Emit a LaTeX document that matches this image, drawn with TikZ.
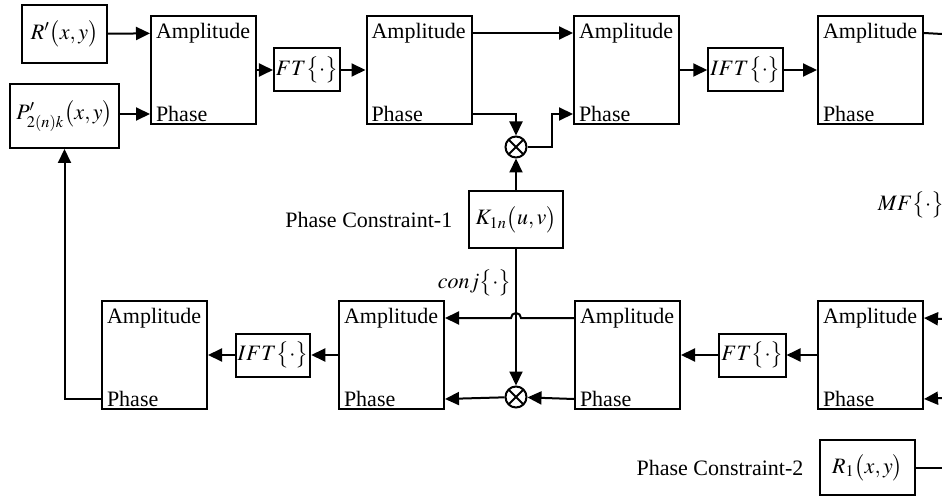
\documentclass[tikz,border=0pt]{standalone}
\usepackage{mathptmx}
\usepackage{fontspec}
\setmainfont{Liberation Serif}
\usetikzlibrary{arrows.meta,positioning,calc}

\begin{document}
\begin{tikzpicture}[x=0.5pt, y=-0.5pt, line width=1pt,
    every node/.style={font=\fontsize{11}{13}\selectfont},
    blk/.style={draw, minimum width=52.5pt, minimum height=54pt},
    op/.style={draw, inner sep=1pt, minimum height=21.5pt},
    amp/.style={anchor=west, inner sep=2.5pt},
    arr/.style={-{Triangle[length=7pt,width=6.5pt]}},
    mult/.style={circle, draw, minimum size=10.5pt, inner sep=0pt,
      path picture={\draw (path picture bounding box.north west)
        -- (path picture bounding box.south east)
        (path picture bounding box.north east)
        -- (path picture bounding box.south west);}}]
  \useasboundingbox (0,0) rectangle (942,497);

  % upper loop
  \node[draw, minimum width=42.5pt, minimum height=29pt] (r0) at (64.5,34) {$R'\bigl(x,y\bigr)$};
  \node[draw, minimum width=52.5pt, minimum height=32pt] (p0) at (64.5,116) {$P'_{2(n)k}\bigl(x,y\bigr)$};
  \node[blk] (a1) at (203.5,70) {};
  \node[op, minimum width=29pt] (ft1) at (307,70) {$FT\bigl\{\cdot\bigr\}$};
  \node[blk] (a2) at (419,70) {};
  \node[blk] (a3) at (626.5,70) {};
  \node[op, minimum width=35.5pt] (ift1) at (745.5,70) {$IFT\bigl\{\cdot\bigr\}$};
  \node[blk] (a4) at (870.5,70) {};
  \node[mult] (m1) at (516,147) {};
  \node[draw, minimum width=42pt, minimum height=28.5pt] (k1) at (516,219.5) {$K_{1n}\bigl(u,v\bigr)$};
  \node[left=4pt of k1] (pc1) {Phase Constraint-1};
  \node (mf) at (911,205) {$MF\bigl\{\cdot\bigr\}$};
  \node[anchor=east] (cj) at (519,283) {$conj\bigl\{\cdot\bigr\}$};

  % lower loop
  \node[blk] (b1) at (154.5,355) {};
  \node[op, minimum width=35pt] (ift2) at (273,355) {$IFT\bigl\{\cdot\bigr\}$};
  \node[blk] (b2) at (391.5,355) {};
  \node[mult] (m2) at (516,397) {};
  \node[blk] (b3) at (627.5,355) {};
  \node[op, minimum width=28.5pt] (ft2) at (752.5,355) {$FT\bigl\{\cdot\bigr\}$};
  \node[blk] (b4) at (870.5,355) {};
  \node[draw, minimum width=47.5pt, minimum height=27.5pt] (r1) at (867.5,467.5) {$R_1\bigl(x,y\bigr)$};
  \node[left=4pt of r1] (pc2) {Phase Constraint-2};

  \foreach \b in {a1,a2,a3,a4,b1,b2,b3,b4}{
    \node[amp] (\b-a) at ($(\b.north west)+(0,18)$) {Amplitude};
    \node[amp] (\b-p) at ($(\b.south west)+(0,-11)$) {Phase};}

  \coordinate (j1) at (552,147);
  \coordinate (o1) at (942,34);
  \coordinate (o2) at (942,319);
  \coordinate (o3) at (942,398);
  \coordinate (o4) at (942,467.5);

  \draw[arr] (r0) -- (a1-a);
  \draw[arr] (p0.east |- a1-p) -- (a1-p.west);
  \draw[arr] (a1) -- (ft1);
  \draw[arr] (ft1) -- (a2);
  \draw[arr] (a2-a -| a2.east) -- (a3-a);
  \draw[arr] (a2-p -| a2.east) -| (m1);
  \draw[arr] (m1) -- (j1) |- (a3-p);
  \draw[arr] (k1) -- (m1);
  \draw[arr] (a3) -- (ift1);
  \draw[arr] (ift1) -- (a4);
  \draw (a4-a -| a4.east) -- (o1);

  \draw[arr] (k1) -- (m2);
  \draw[arr] (b3-p -| b3.west) -- (m2);
  \draw[arr] (m2) -- (b2-p -| b2.east);
  \draw[arr] (b3-a -| b3.west) -- ($(b3-a -| m2)+(5,0)$)
    arc[start angle=0, end angle=-180, radius=5] -- (b2-a -| b2.east);
  \draw[arr] (o2) -- (b4-a -| b4.east);
  \draw[arr] (o3) -- (b4-p -| b4.east);
  \draw[arr] (b4) -- (ft2);
  \draw[arr] (ft2) -- (b3);
  \draw[arr] (b2) -- (ift2);
  \draw[arr] (ift2) -- (b1);
  \draw[arr] (b1-p -| b1.west) -| (p0);
  \draw (r1) -- (o4);
\end{tikzpicture}
\end{document}
